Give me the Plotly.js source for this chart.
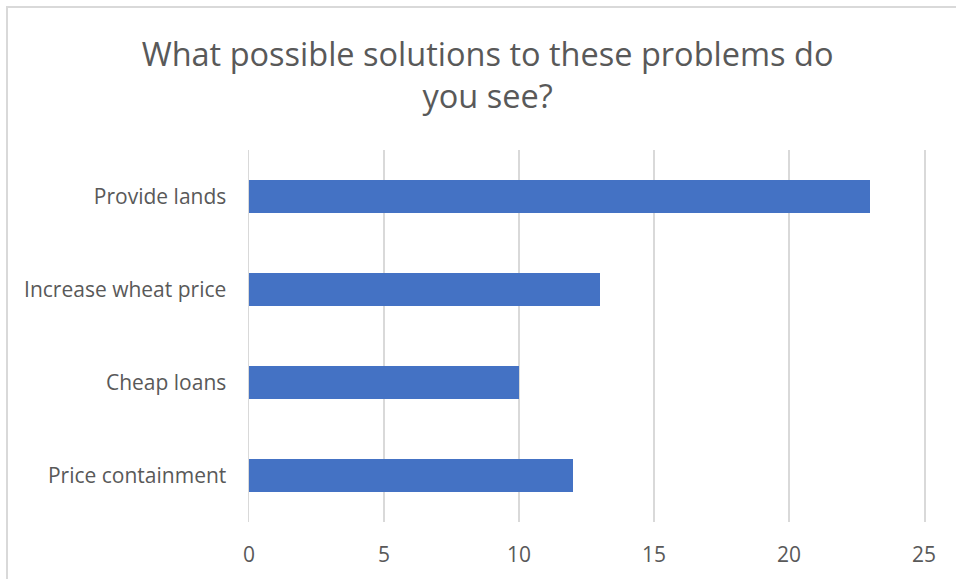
<!DOCTYPE html>
<html>
<head>
<meta charset="utf-8">
<script src="https://cdn.plot.ly/plotly-3.0.1.min.js"></script>
<style>
html,body{margin:0;padding:0;background:#fff;overflow:hidden;}
#frame{position:absolute;left:6px;top:6px;width:1200px;height:1200px;border-left:2px solid #d9d9d9;border-top:2px solid #d9d9d9;box-sizing:border-box;}
#chart{position:absolute;left:0;top:0;width:956px;height:579px;}
</style>
</head>
<body>
<div id="frame"></div>
<div id="chart"></div>
<script>
const categories = ["Price containment", "Cheap loans", "Increase wheat price", "Provide lands"];
const values = [12, 10, 13, 23];
const xTicks = [0, 5, 10, 15, 20, 25];

const textColor = "#595959";
const font = "'Open Sans', 'DejaVu Sans', sans-serif";

Plotly.newPlot("chart", [{
  type: "bar",
  orientation: "h",
  y: categories,
  x: values,
  width: 0.355,
  marker: {color: "#4472C4"},
  hoverinfo: "x+y"
}], {
  width: 956,
  height: 579,
  paper_bgcolor: "rgba(0,0,0,0)",
  plot_bgcolor: "rgba(0,0,0,0)",
  margin: {l: 249, r: 32, t: 150, b: 57, pad: 0},
  title: {
    text: "What possible solutions to these problems do<br>you see?",
    font: {family: font, size: 32.5, color: textColor},
    x: 0.51, xref: "container", xanchor: "center",
    y: 0.886, yref: "container", yanchor: "middle"
  },
  xaxis: {
    range: [0, 25],
    tickvals: xTicks,
    ticktext: xTicks.map(String),
    showgrid: true,
    gridcolor: "#d9d9d9",
    gridwidth: 1.5,
    zeroline: false,
    showline: false,
    ticks: "",
    ticklabelstandoff: 18,
    tickfont: {family: font, size: 21, color: textColor},
    fixedrange: true
  },
  yaxis: {
    categoryorder: "array",
    categoryarray: categories,
    showgrid: false,
    zeroline: false,
    showline: true,
    mirror: true,
    linecolor: "#d9d9d9",
    linewidth: 1.5,
    ticks: "",
    ticklabelstandoff: 17,
    tickfont: {family: font, size: 21, color: textColor},
    fixedrange: true
  },
  showlegend: false
}, {displayModeBar: false, staticPlot: true});
</script>
</body>
</html>
